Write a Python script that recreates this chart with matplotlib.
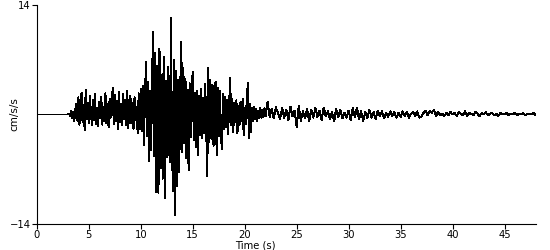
import numpy as np
import matplotlib
matplotlib.use("Agg")
import matplotlib.pyplot as plt

# quiet part before the first arrival
t_quiet = [0.0, 3.0]
a_quiet = [0.0, 0.0]

# 3.1 - 10.0 s, every 0.1 s (P waves)
p_start, p_step = 3.1, 0.1
a_p = [0.1, -0.2, 0.5, -0.4, 0.3, -0.9, 0.6, 1.4, -0.8, 2.2,
       -1.3, 0.9, 2.8, -1.0, 1.2, -2.0, 3.1, -0.6, 1.5, -1.1,
       2.4, 0.3, -1.4, 1.9, -0.7, 2.6, -1.2, 0.8, -1.5, 1.6,
       -0.5, 2.3, -1.3, 1.0, -0.9, 2.7, -1.1, 1.4, -1.6, 2.0,
       -0.4, 1.2, 3.4, -1.2, 2.5, -0.8, 1.7, -1.9, 2.9, -1.0,
       1.3, -1.4, 2.6, -0.6, 1.8, -1.3, 3.0, -1.7, 0.9, 2.4,
       -1.1, 1.5, -1.8, 2.2, -0.7, 1.0, -2.4, 2.7, -1.9, 3.3]

# 10.1 - 18.0 s, every 0.1 s (strong motion)
s_start, s_step = 10.1, 0.1
a_s = [-2.1, 3.6, -3.9, 2.2, 6.7, -2.8, 4.1, -6.0, 3.0, -4.5,
       5.8, 10.5, -5.3, 7.9, -9.9, 6.2, -10.0, 8.4, -6.8, 5.1,
       -8.2, 7.4, -10.7, 4.3, -5.5, 6.1, -3.8, -6.1, 12.3, -4.2,
       -9.8, 7.0, -12.8, 5.6, -9.2, 4.4, -7.3, 3.6, 9.3, -4.8,
       5.9, -3.7, 4.6, -5.6, 3.2, -7.1, 4.0, -2.9, 3.5, 5.4,
       -3.3, 2.8, -4.1, 3.0, -5.2, 2.4, -2.6, 3.3, -3.0, 2.1,
       -2.4, 3.9, -2.2, -7.9, 6.0, -3.5, 4.4, -3.1, 3.8, -4.0,
       2.7, 4.2, -5.2, 3.4, -2.8, 3.0, -2.1, -4.4, 2.6, -1.8]

# 18.1 - 22.0 s, every 0.1 s (decay)
d_start, d_step = 18.1, 0.1
a_d = [2.3, -1.6, 1.9, -2.5, 1.2, 4.7, -1.4, 2.0, -2.2, 1.5,
       -1.0, 1.8, -2.4, 1.1, -1.3, 1.6, -0.8, 2.0, -2.6, 0.9,
       -1.2, 2.0, 4.0, -3.0, 1.4, -2.2, 0.8, -0.9, 1.0, -0.6,
       0.7, -0.8, 0.5, -0.5, 0.9, -0.4, 0.6, -0.3, 0.8, -0.2]

# 22.2 - 48.0 s, every 0.2 s (coda)
c_start, c_step = 22.2, 0.2
a_c = [1.6, -0.3, 0.7, -0.5, 0.9, 0.2, -0.6, 0.8, -0.4, 0.6,
       -0.7, 1.0, -0.2, 0.5, -1.6, 1.1, -0.8, 0.4, -0.5, 0.7,
       -0.9, 0.6, -0.4, 0.8, -0.3, 0.5, -0.7, 0.9, -0.2, 0.4,
       -0.6, 0.3, -0.9, 0.7, -0.3, 0.6, -0.5, 0.2, -0.4, 0.5,
       -0.7, 0.8, -0.3, 0.9, -0.6, 0.4, -0.8, 0.3, -0.5, 0.6,
       -0.4, 0.3, -0.6, 0.5, -0.2, 0.4, -0.5, 0.2, -0.3, 0.4,
       -0.2, 0.3, -0.4, 0.2, -0.3, 0.4, -0.2, 0.3, -0.4, 0.1,
       0.3, -0.2, 0.4, -0.4, -0.3, 0.2, 0.5, -0.1, 0.4, 0.2,
       0.6, -0.2, 0.3, -0.1, 0.1, -0.2, 0.2, -0.1, 0.3, 0.0,
       0.2, -0.2, 0.3, 0.1, -0.1, 0.4, -0.2, 0.2, 0.1, -0.1,
       0.3, 0.1, -0.2, 0.2, 0.0, 0.3, -0.1, 0.1, 0.2, -0.1,
       0.1, -0.2, 0.2, 0.1, 0.0, 0.2, -0.1, 0.1, 0.0, 0.2,
       -0.1, 0.1, 0.0, 0.2, -0.1, 0.1, 0.0, 0.1, 0.2, -0.1]

x_ticks = [0, 5, 10, 15, 20, 25, 30, 35, 40, 45]
y_ticks = [-14, 14]


def seg(start, step, vals):
    return start + step * np.arange(len(vals)), np.asarray(vals)


parts = [(np.asarray(t_quiet), np.asarray(a_quiet)),
         seg(p_start, p_step, a_p),
         seg(s_start, s_step, a_s),
         seg(d_start, d_step, a_d),
         seg(c_start, c_step, a_c)]
t = np.concatenate([p[0] for p in parts])
acc = np.concatenate([p[1] for p in parts])

fig = plt.figure(figsize=(5.5, 2.5), dpi=100)
ax = fig.add_axes([0.067, 0.104, 0.907, 0.876])
ax.plot(t, acc, color="black", linewidth=0.72, antialiased=False)

ax.set_xlim(0, 48)
ax.set_ylim(-14, 14)
ax.set_xticks(x_ticks)
ax.set_yticks(y_ticks)
ax.spines["top"].set_visible(False)
ax.spines["right"].set_visible(False)
ax.tick_params(labelsize=7.2, length=3.5, width=0.8, pad=1)
ax.set_xlabel("Time (s)", fontsize=7.2)
ax.xaxis.set_label_coords(0.437, -0.075, transform=ax.transAxes)
ax.xaxis.label.set_va("top")
ax.set_ylabel("cm/s/s", fontsize=7.5)
ax.yaxis.set_label_coords(-0.035, 0.5)

fig.savefig("out.png", dpi=100)
